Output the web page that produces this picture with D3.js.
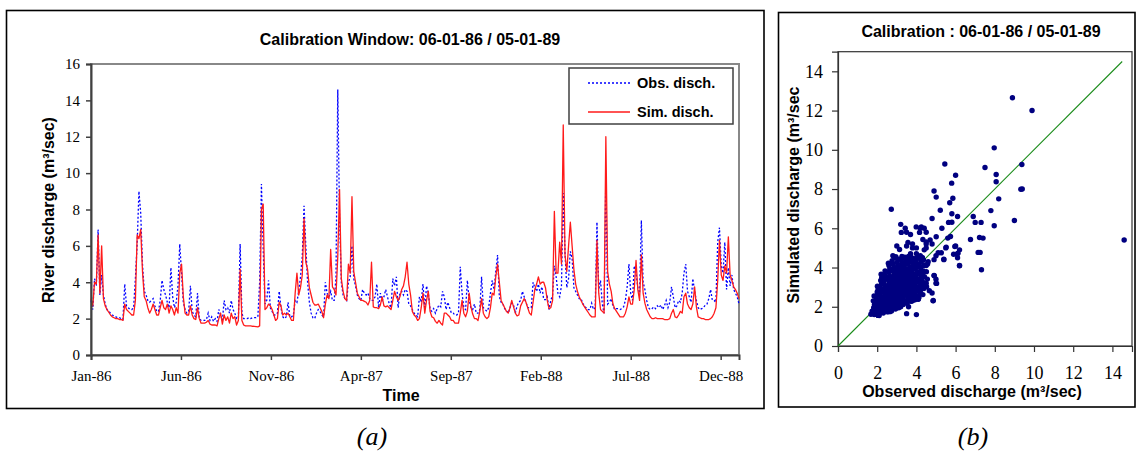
<!DOCTYPE html>
<html><head><meta charset="utf-8">
<script src="https://cdn.jsdelivr.net/npm/d3@7"></script>
<style>body{margin:0;background:#fff}</style>
</head><body>
<svg id="c" width="1137" height="452" xmlns="http://www.w3.org/2000/svg"></svg>
<script>
// ---------------- DATA ----------------
const startDate = Date.UTC(1986, 0, 6);   // 06-01-86
const endDayOffset = 1095;                // 05-01-89
const stepDays = 3;                       // one value every 3 days

// Observed discharge (m3/sec), every 3 days from 06-01-86
const obs = [
3.0,2.5,4.2,3.8,6.9,3.3,4.4,3.3,2.8,2.5,
2.4,2.3,2.2,2.15,2.1,2.05,2.05,2.0,1.95,3.9,
2.7,2.6,2.5,2.5,2.6,4.2,6.1,9.0,7.8,5.0,
3.5,3.3,3.0,2.9,3.0,3.1,2.7,2.4,2.4,3.0,
4.1,3.6,3.3,2.9,2.6,4.8,3.2,2.6,2.9,3.8,
6.1,4.5,2.9,2.5,2.3,2.4,3.8,2.4,2.2,2.1,
3.4,2.0,1.9,1.9,1.9,1.95,2.3,1.9,2.1,1.85,
2.0,1.85,2.5,2.2,1.9,3.0,2.5,2.6,2.3,3.0,
2.5,2.3,2.0,2.0,6.1,2.3,2.0,2.0,2.0,2.05,
2.0,2.05,2.05,2.05,2.1,4.0,9.4,5.8,2.8,3.0,
4.1,2.6,2.4,2.2,2.2,2.3,3.5,2.6,2.1,2.0,
2.1,2.9,2.1,2.1,2.2,3.0,2.9,3.5,4.3,5.4,
8.2,6.0,4.0,2.9,2.3,2.05,2.0,2.3,2.5,2.4,
2.2,2.1,4.0,3.4,3.2,3.5,3.0,3.0,4.3,14.6,
7.5,4.0,3.3,3.1,3.0,4.0,4.3,6.0,4.2,3.8,
3.3,3.1,3.0,3.6,3.4,3.3,3.4,3.1,3.0,3.0,
3.2,3.9,2.6,3.4,3.0,3.2,3.6,3.2,2.8,2.6,
4.2,3.8,4.3,2.6,3.4,3.5,3.3,3.6,3.5,2.8,
2.7,2.5,2.3,2.2,2.1,3.2,2.9,3.9,2.5,3.8,
3.4,2.5,2.4,2.55,2.3,2.55,2.75,2.65,3.5,3.2,
2.5,2.9,2.6,2.3,2.3,2.2,2.2,2.3,4.85,3.4,
2.6,2.5,4.1,3.0,2.6,2.5,2.8,2.3,2.3,2.5,
4.3,2.6,2.5,2.4,2.6,3.4,4.1,3.6,4.6,5.5,
3.2,2.9,2.8,2.55,2.45,2.3,2.6,2.85,2.75,2.3,
2.7,2.9,3.0,3.5,3.2,2.9,2.6,2.6,2.6,4.0,
3.7,3.5,3.9,3.4,3.75,3.05,3.05,3.2,2.5,3.0,
3.3,4.9,4.3,3.4,3.2,3.8,8.9,5.6,3.7,4.2,
5.7,5.3,3.7,3.5,3.3,3.1,3.1,2.85,2.65,2.6,
2.5,2.5,2.85,2.5,2.6,7.3,3.6,4.1,2.8,2.3,
9.9,2.8,2.9,3.1,2.7,2.5,2.55,2.55,2.5,2.55,
2.65,3.0,3.75,5.0,3.4,3.0,4.9,4.5,3.7,3.4,
7.4,4.0,3.6,3.0,2.6,2.5,2.55,2.65,2.55,2.7,
2.6,2.75,2.5,2.7,3.0,2.6,2.9,3.75,3.2,2.6,
2.7,3.0,2.9,3.4,4.5,5.0,3.5,3.2,2.9,4.2,
3.5,3.0,2.6,2.5,2.55,2.6,2.75,2.8,3.1,3.6,
3.0,3.0,2.9,6.2,7.0,4.9,4.5,6.2,3.6,4.8,
3.8,4.4,3.6,3.4,3.2,2.8];

// Simulated discharge (m3/sec), same dates
const sim = [
3.1,2.7,4.0,3.9,6.6,3.4,6.0,3.1,2.7,2.5,
2.35,2.2,2.1,2.05,2.0,2.0,1.95,1.95,1.9,2.8,
2.5,2.4,2.3,2.2,2.2,3.0,6.6,6.4,6.9,4.6,
3.2,3.0,2.6,2.3,2.5,2.8,2.5,2.2,2.2,2.6,
3.0,2.6,2.5,2.8,2.3,2.7,2.5,2.2,2.6,2.3,
4.5,5.0,3.2,2.3,2.2,2.2,2.7,2.2,2.0,1.95,
2.6,2.0,1.75,1.75,1.75,1.8,1.9,1.7,1.65,1.65,
1.65,1.6,2.0,2.3,1.7,2.2,1.9,2.1,1.75,2.3,
2.0,2.1,1.65,1.9,4.7,1.9,1.65,1.6,1.6,1.6,
1.6,1.58,1.57,1.56,1.55,1.6,8.0,8.3,2.5,2.6,
2.8,2.7,2.5,2.2,1.9,2.0,2.9,2.7,2.2,2.3,
2.2,2.3,2.1,1.9,1.9,3.4,4.5,3.3,3.7,4.4,
7.5,5.1,4.7,3.7,3.3,2.9,2.75,2.75,2.8,2.6,
2.4,2.05,2.8,3.3,3.1,5.8,3.75,3.6,3.3,5.4,
9.1,4.2,3.5,3.1,3.0,5.0,4.5,8.7,4.6,4.0,
3.4,3.2,3.0,3.0,2.95,2.9,2.75,3.0,5.1,2.65,
2.6,2.6,2.55,2.75,3.2,2.7,2.65,2.7,2.6,2.5,
3.0,3.5,3.2,3.0,3.2,3.6,3.8,4.3,5.1,3.9,
3.3,2.4,2.2,2.1,1.9,2.0,2.6,3.4,2.3,3.0,
3.5,2.4,2.1,2.05,1.85,1.75,1.9,1.75,1.65,2.3,
2.3,2.2,2.1,1.9,1.9,1.75,1.75,1.75,2.3,3.0,
2.3,2.1,2.4,3.4,2.65,2.25,2.0,2.0,1.9,2.4,
3.1,2.3,2.1,2.0,2.1,2.6,3.4,3.3,4.3,5.0,
4.0,3.0,2.8,2.6,2.4,2.3,2.6,3.0,2.65,2.3,
2.15,2.2,2.7,2.9,3.1,2.9,2.6,2.3,2.2,2.9,
3.6,3.9,4.3,3.9,4.0,4.0,3.7,3.0,2.55,2.6,
3.0,7.9,4.5,4.5,6.2,5.0,12.65,5.5,4.6,6.0,
7.3,6.0,4.7,3.9,3.5,3.2,3.0,2.8,2.65,2.5,
2.35,2.2,2.1,2.1,2.1,6.3,3.4,2.5,2.4,2.3,
12.0,4.6,3.9,3.5,2.8,2.55,2.4,2.25,2.1,2.1,
2.1,2.3,2.65,3.2,2.8,2.8,3.6,5.2,3.6,3.0,
5.5,3.4,2.85,2.5,2.3,2.1,2.0,2.0,2.05,2.0,
2.0,2.0,2.0,1.95,1.95,1.95,2.0,2.3,2.5,2.1,
2.05,2.2,2.4,2.3,3.2,3.4,2.8,2.6,2.5,2.8,
3.75,2.65,2.1,2.05,2.0,2.0,1.95,1.95,1.95,2.0,
2.1,2.3,2.6,4.1,6.3,4.4,4.1,4.9,4.5,6.5,
4.4,4.1,3.75,3.6,3.4,3.1];

// Additional daily pairs visible in the scatter (obs, sim): outliers and edge of the cloud
const extraObs = [2.72,7.97,9.38,5.45,8.07,8.07,5.01,5.86,9.33,5.22,5.81,5.64,5.81,7.97,5.01,5.74,6.76,7.22,5.11,5.27,5.9,7.15,7.25,7.32,5.40,4.09,4.86,4.66,5.03,4.91,6.20,5.96,5.52,6.12,
                  3.43,3.99,4.25,3.23,3.70,4.16,3.57,4.33,3.14,4.5,4.7,4.8,4.4,3.8,4.5];
const extraSim = [6.97,10.1,9.25,9.28,8.74,8.37,7.59,7.53,7.99,6.92,6.74,6.30,6.31,6.13,5.57,5.58,5.43,5.53,4.75,4.75,4.68,4.77,4.77,3.89,4.43,2.38,2.32,2.82,3.19,3.58,4.09,5.07,5.04,4.73,
                  6.0,6.07,6.07,5.79,5.68,5.79,5.28,5.43,4.92,5.3,5.4,5.2,4.9,5.2,5.8];

// Dense core of the scatter (estimated daily pairs hidden in the solid cloud)
const cloudObs = [
1.68,1.74,1.82,1.78,1.86,1.80,1.84,
1.93,1.97,1.91,2.02,1.96,2.04,2.06,2.01,
2.12,2.17,2.13,2.19,2.14,2.21,2.16,2.22,2.18,2.23,2.20,
2.31,2.36,2.33,2.38,2.32,2.39,2.34,2.41,2.35,2.42,2.37,2.40,
2.52,2.57,2.53,2.59,2.54,2.61,2.55,2.62,2.56,2.63,2.58,2.64,2.60,2.57,
2.73,2.78,2.72,2.81,2.75,2.83,2.76,2.84,2.77,2.85,2.79,2.86,2.80,2.76,
2.93,2.98,2.92,3.01,2.95,3.03,2.96,3.04,2.97,3.05,2.99,3.06,3.00,3.07,2.95,
3.13,3.18,3.12,3.21,3.15,3.22,3.16,3.23,3.17,3.24,3.19,3.25,3.20,3.26,
3.33,3.38,3.32,3.41,3.35,3.42,3.36,3.43,3.37,3.44,3.39,3.45,3.40,
3.53,3.58,3.52,3.61,3.55,3.62,3.56,3.63,3.57,3.64,3.59,3.65,3.60,
3.73,3.78,3.72,3.81,3.75,3.82,3.76,3.83,3.77,3.84,3.79,3.85,
3.93,3.98,3.92,4.01,3.95,4.02,3.96,4.03,3.97,4.04,3.99,4.05,
4.13,4.18,4.12,4.21,4.15,4.22,4.16,4.23,4.17,4.24,4.19,
4.33,4.38,4.32,4.41,4.35,4.42,4.36,
4.52,4.56,4.51,4.57];
const cloudSim = [
1.62,1.78,1.95,1.70,2.12,2.30,2.55,
1.66,1.84,2.03,2.22,2.41,2.63,2.85,3.05,
1.72,1.93,2.14,2.36,2.58,2.77,2.98,3.16,3.34,3.50,3.66,
1.68,1.88,2.07,2.29,2.47,2.68,2.89,3.08,3.27,3.46,3.63,3.83,
1.74,1.96,2.17,2.38,2.57,2.78,2.97,3.19,3.38,3.57,3.76,3.93,4.10,4.22,
1.79,2.01,2.22,2.43,2.62,2.84,3.03,3.24,3.43,3.62,3.82,4.01,4.18,4.35,
1.88,2.08,2.27,2.48,2.69,2.88,3.09,3.28,3.47,3.68,3.86,4.07,4.26,4.42,4.55,
2.02,2.21,2.42,2.63,2.82,3.03,3.22,3.42,3.61,3.82,4.01,4.22,4.41,4.56,
2.12,2.32,2.53,2.74,2.93,3.14,3.33,3.54,3.73,3.94,4.13,4.34,4.52,
2.18,2.39,2.58,2.79,2.98,3.19,3.38,3.58,3.79,3.98,4.19,4.38,4.57,
2.28,2.49,2.69,2.88,3.09,3.29,3.48,3.69,3.88,4.08,4.27,4.46,
2.36,2.57,2.78,2.97,3.18,3.38,3.57,3.77,3.98,4.17,4.36,4.52,
2.47,2.68,2.88,3.08,3.28,3.48,3.68,3.87,4.07,4.28,4.46,
2.62,2.93,3.22,3.53,3.82,4.12,4.38,
3.02,3.41,3.79,4.18];

const tickDayOffsets = [0,152,304,456,608,760,912,1064];
const tickLabels = ["Jan-86","Jun-86","Nov-86","Apr-87","Sep-87","Feb-88","Jul-88","Dec-88"];
const yTicksA = [0,2,4,6,8,10,12,14,16];
const scatterTicks = [0,2,4,6,8,10,12,14];
const oneToOne = [0, 14.5];

const seriesNames = ["Obs. disch.", "Sim. disch."];
const titleA = "Calibration Window: 06-01-86 / 05-01-89";
const titleB = "Calibration : 06-01-86 / 05-01-89";

// ---------------- DRAW ----------------
const DAY = 86400000;
const dates = obs.map((_, i) => new Date(startDate + i * stepDays * DAY));
const svg = d3.select("#c");
svg.append("rect").attr("width",1137).attr("height",452).attr("fill","#fff");

const SANS = "'Liberation Sans', Arial, sans-serif";
const SERIF = "'Liberation Serif', 'Times New Roman', serif";

// panel frames
svg.append("rect").attr("x",6.5).attr("y",10.5).attr("width",757.5).attr("height",398)
  .attr("fill","none").attr("stroke","#000").attr("stroke-width",1.6);
svg.append("rect").attr("x",778.5).attr("y",12.5).attr("width",356.5).attr("height",394.5)
  .attr("fill","none").attr("stroke","#000").attr("stroke-width",1.6);

// ---- Panel (a): time series ----
const A = {l:91, r:739, t:64, b:355};
const x = d3.scaleUtc().domain([new Date(startDate), new Date(startDate + endDayOffset*DAY)]).range([A.l, A.r]);
const y = d3.scaleLinear().domain([0,16]).range([A.b, A.t]);

svg.append("rect").attr("x",A.l).attr("y",A.t).attr("width",A.r-A.l).attr("height",A.b-A.t)
  .attr("fill","none").attr("stroke","#888").attr("stroke-width",2);

const line = d3.line().x((d,i)=>x(dates[i])).y(d=>y(d));
svg.append("path").datum(obs).attr("d",line).attr("fill","none")
  .attr("stroke","#0000ff").attr("stroke-width",1.3).attr("stroke-dasharray","2,2");
svg.append("path").datum(sim).attr("d",line).attr("fill","none")
  .attr("stroke","#ff1a1a").attr("stroke-width",1.3).attr("stroke-linejoin","round");

const tickDates = tickDayOffsets.map(o => new Date(startDate + o*DAY));
const gx = svg.append("g").attr("transform",`translate(0,${A.b})`)
  .call(d3.axisBottom(x).tickValues(tickDates).tickFormat((d,i)=>tickLabels[i]).tickSize(5).tickPadding(10));
const gy = svg.append("g").attr("transform",`translate(${A.l},0)`)
  .call(d3.axisLeft(y).tickValues(yTicksA).tickSize(5).tickPadding(6));
[gx,gy].forEach(g=>{
  g.select(".domain").attr("stroke","#404040").attr("stroke-width",2);
  g.selectAll(".tick line").attr("stroke","#404040").attr("stroke-width",1.5);
  g.selectAll(".tick text").attr("font-family",SERIF).attr("font-size","15px").attr("fill","#000");
});

svg.append("text").attr("x",410).attr("y",45).attr("text-anchor","middle")
  .attr("font-family",SANS).attr("font-weight","bold").attr("font-size","16px").text(titleA);
svg.append("text").attr("x",401).attr("y",401).attr("text-anchor","middle")
  .attr("font-family",SANS).attr("font-weight","bold").attr("font-size","16px").text("Time");
svg.append("text").attr("transform","translate(54,210) rotate(-90)").attr("text-anchor","middle")
  .attr("font-family",SANS).attr("font-weight","bold").attr("font-size","16px").text("River discharge (m³/sec)");

// legend
const lg = svg.append("g");
lg.append("rect").attr("x",569).attr("y",68).attr("width",164).attr("height",56)
  .attr("fill","#fff").attr("stroke","#404040").attr("stroke-width",1.5);
const legStyles = [{c:"#0000ff",dash:"2,2",yy:83},{c:"#ff1a1a",dash:null,yy:112}];
seriesNames.forEach((n,k)=>{
  const s = legStyles[k];
  lg.append("line").attr("x1",588).attr("x2",630).attr("y1",s.yy).attr("y2",s.yy)
    .attr("stroke",s.c).attr("stroke-width",1.3).attr("stroke-dasharray",s.dash);
  lg.append("text").attr("x",637).attr("y",s.yy+5).attr("font-family",SANS).attr("font-weight","bold")
    .attr("font-size","14.5px").text(n);
});

// ---- Panel (b): scatter ----
const B = {l:838, r:1132, t:51.7, b:346};
const xs = d3.scaleLinear().domain([0,15]).range([B.l,B.r]);
const ys = d3.scaleLinear().domain([0,15]).range([B.b,B.t]);
svg.append("rect").attr("x",B.l).attr("y",B.t).attr("width",B.r-B.l).attr("height",B.b-B.t)
  .attr("fill","none").attr("stroke","#333").attr("stroke-width",1.2);
const gxs = svg.append("g").attr("transform",`translate(0,${B.b})`)
  .call(d3.axisBottom(xs).tickValues(scatterTicks).tickSize(6).tickPadding(14));
const gys = svg.append("g").attr("transform",`translate(${B.l},0)`)
  .call(d3.axisLeft(ys).tickValues(scatterTicks).tickSize(6).tickPadding(9));
[gxs,gys].forEach(g=>{
  g.select(".domain").attr("stroke","#333").attr("stroke-width",1.2);
  g.selectAll(".tick line").attr("stroke","#333").attr("stroke-width",1.2);
  g.selectAll(".tick text").attr("font-family",SERIF).attr("font-size","18px").attr("fill","#000");
});
svg.append("line").attr("x1",xs(oneToOne[0])).attr("y1",ys(oneToOne[0]))
  .attr("x2",xs(oneToOne[1])).attr("y2",ys(oneToOne[1])).attr("stroke","#1a8c1a").attr("stroke-width",1.1);

const pairs = obs.map((o,i)=>[o,sim[i]])
  .concat(extraObs.map((o,i)=>[o,extraSim[i]]))
  .concat(cloudObs.map((o,i)=>[o,cloudSim[i]]));
svg.append("g").selectAll("circle").data(pairs).join("circle")
  .attr("cx",d=>xs(d[0])).attr("cy",d=>ys(d[1])).attr("r",2.7).attr("fill","#000080");

svg.append("text").attr("x",981).attr("y",37).attr("text-anchor","middle")
  .attr("font-family",SANS).attr("font-weight","bold").attr("font-size","16px").text(titleB);
svg.append("text").attr("x",972).attr("y",397).attr("text-anchor","middle")
  .attr("font-family",SANS).attr("font-weight","bold").attr("font-size","16px").text("Observed discharge (m³/sec)");
svg.append("text").attr("transform","translate(799,195) rotate(-90)").attr("text-anchor","middle")
  .attr("font-family",SANS).attr("font-weight","bold").attr("font-size","16px").text("Simulated discharge (m³/sec");

// captions
svg.append("text").attr("x",372).attr("y",445).attr("text-anchor","middle")
  .attr("font-family",SERIF).attr("font-style","italic").attr("font-size","26px").text("(a)");
svg.append("text").attr("x",973).attr("y",445).attr("text-anchor","middle")
  .attr("font-family",SERIF).attr("font-style","italic").attr("font-size","26px").text("(b)");
</script>
</body></html>
